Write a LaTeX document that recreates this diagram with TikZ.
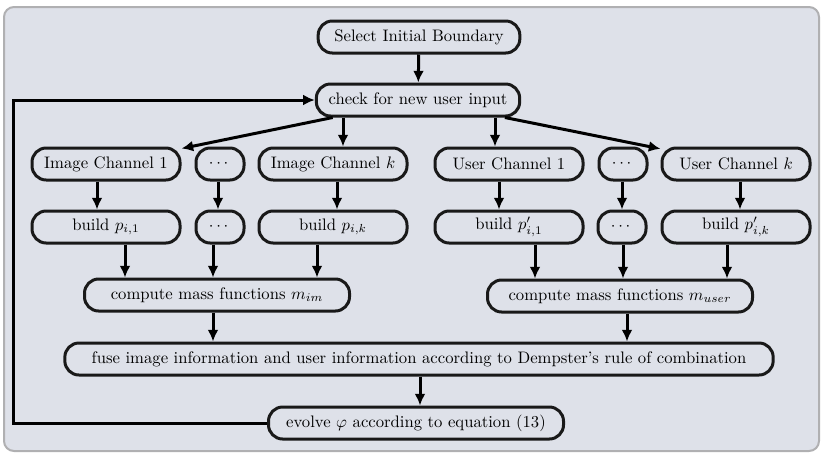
\documentclass[tikz,border=0pt]{standalone}
\usepackage{amsmath,amssymb,amsfonts}
\usetikzlibrary{arrows.meta,positioning}
\definecolor{panel}{RGB}{222,225,233}
\definecolor{rim}{RGB}{176,176,178}

\begin{document}
\begin{tikzpicture}[x=0.6pt,y=-0.6pt]
\tikzstyle{block}=[rectangle, rounded corners=8.5pt, draw=black!90, line width=1.8pt, minimum height=19.2pt, inner xsep=7pt]
\tikzstyle{chan}=[block, minimum width=88.8pt]
\tikzstyle{more}=[block, minimum width=28.8pt]
\tikzstyle{connect}=[-{Latex[length=7pt,width=6.5pt]}, line width=1.8pt]
  \useasboundingbox (0,0) rectangle (821,453);
  % panel
  \draw[rim, fill=panel, line width=1.2pt, rounded corners=6pt] (4,7) rectangle (819,451);
  % select
  \node[block, minimum width=121pt] (select) at (419,37) {Select Initial Boundary};
  % check
  \node[block, minimum width=122pt] (check) at (418,100) {check for new user input};
  % image channels
  \node[chan] (ic1) at (106,164) {Image Channel 1};
  \node[more] (icdots) at (220,164) {$\cdots$};
  \node[chan] (ick) at (333,164) {Image Channel $k$};
  % user channels
  \node[chan] (uc1) at (509,164) {User Channel 1};
  \node[more] (ucdots) at (623,164) {$\cdots$};
  \node[chan] (uck) at (736,164) {User Channel $k$};
  % build
  \node[chan] (bp1) at (106,227) {build $p_{i,1}$};
  \node[more] (bpdots) at (220,227) {$\cdots$};
  \node[chan] (bpk) at (333,227) {build $p_{i,k}$};
  \node[chan] (bq1) at (509,227) {build $p'_{i,1}$};
  \node[more] (bqdots) at (622,227) {$\cdots$};
  \node[chan] (bqk) at (736,227) {build $p'_{i,k}$};
  % mass functions
  \node[block, minimum width=159pt] (mim) at (217,295) {compute mass functions $m_{im}$};
  \node[block, minimum width=159pt] (muser) at (620,296) {compute mass functions $m_{user}$};
  % fuse
  \node[block, minimum width=425pt] (fuse) at (419,359) {fuse image information and user information according to Dempster's rule of combination};
  % evolve
  \node[block, minimum width=177pt] (evolve) at (416,423) {evolve $\varphi$ according to equation (13)};
  % columns of the vertical arrows
  \coordinate (back) at (13,0);
  \coordinate (xa) at (343,0);
  \coordinate (xb) at (495,0);
  \coordinate (xc) at (97,0);
  \coordinate (xd) at (218,0);
  \coordinate (xe) at (337,0);
  \coordinate (xf) at (499,0);
  \coordinate (xg) at (622,0);
  \coordinate (xh) at (740,0);
  \coordinate (xi) at (125,0);
  \coordinate (xj) at (213,0);
  \coordinate (xk) at (317,0);
  \coordinate (xl) at (535,0);
  \coordinate (xm) at (623,0);
  \coordinate (xn) at (727,0);
  \coordinate (xo) at (627,0);
  \coordinate (xp) at (420,0);
  \path (select) edge [connect] (check)
        (check) edge [connect] (ic1)
        (check) edge [connect] (uck);
  \draw[connect] (check.south -| xa) -- (ick.north -| xa);
  \draw[connect] (check.south -| xb) -- (uc1.north -| xb);
  \draw[connect] (ic1.south -| xc) -- (bp1.north -| xc);
  \draw[connect] (icdots.south -| xd) -- (bpdots.north -| xd);
  \draw[connect] (ick.south -| xe) -- (bpk.north -| xe);
  \draw[connect] (uc1.south -| xf) -- (bq1.north -| xf);
  \draw[connect] (ucdots.south -| xg) -- (bqdots.north -| xg);
  \draw[connect] (uck.south -| xh) -- (bqk.north -| xh);
  \draw[connect] (bp1.south -| xi) -- (mim.north -| xi);
  \draw[connect] (bpdots.south -| xj) -- (mim.north -| xj);
  \draw[connect] (bpk.south -| xk) -- (mim.north -| xk);
  \draw[connect] (bq1.south -| xl) -- (muser.north -| xl);
  \draw[connect] (bqdots.south -| xm) -- (muser.north -| xm);
  \draw[connect] (bqk.south -| xn) -- (muser.north -| xn);
  \draw[connect] (mim.south -| xj) -- (fuse.north -| xj);
  \draw[connect] (muser.south -| xo) -- (fuse.north -| xo);
  \draw[connect] (fuse.south -| xp) -- (evolve.north -| xp);
  % loop back
  \draw[connect] (evolve.west) -| (back |- check.west) -- (check.west);
\end{tikzpicture}
\end{document}
